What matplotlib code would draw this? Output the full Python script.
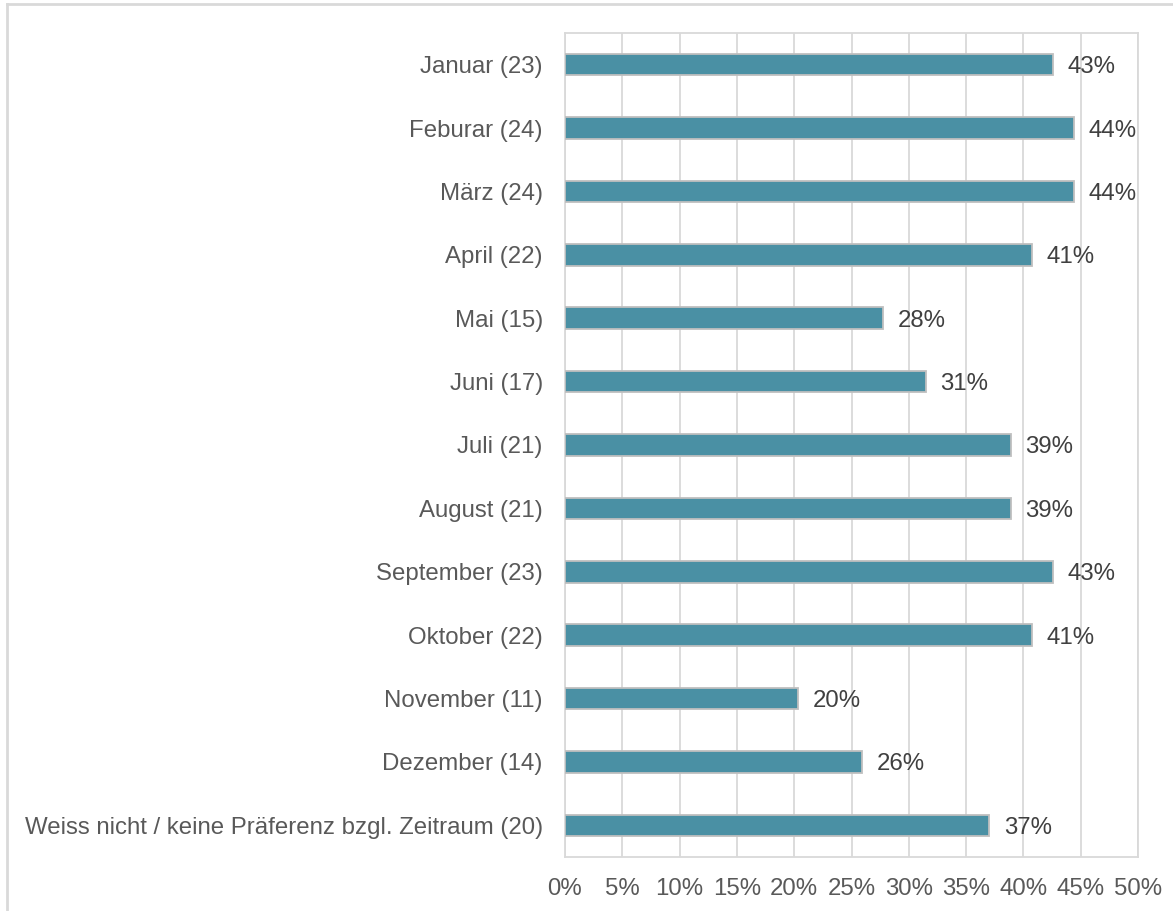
import matplotlib
matplotlib.use("Agg")
import matplotlib.pyplot as plt
from matplotlib.lines import Line2D
from matplotlib.ticker import FuncFormatter

categories = ["Januar (23)", "Feburar (24)", "März (24)", "April (22)", "Mai (15)",
              "Juni (17)", "Juli (21)", "August (21)", "September (23)", "Oktober (22)",
              "November (11)", "Dezember (14)",
              "Weiss nicht / keine Präferenz bzgl. Zeitraum (20)"]
counts = [23, 24, 24, 22, 15, 17, 21, 21, 23, 22, 11, 14, 20]
total = 54
values = [c / total * 100 for c in counts]
labels = ["43%", "44%", "44%", "41%", "28%", "31%", "39%", "39%", "43%", "41%", "20%", "26%", "37%"]
xticks = [0, 5, 10, 15, 20, 25, 30, 35, 40, 45, 50]

plt.rcParams['font.family'] = ['Liberation Sans', 'DejaVu Sans']
W, H = 1173, 911
fig = plt.figure(figsize=(W / 100, H / 100), dpi=100)
ax = fig.add_axes([565 / W, 1 - 857 / H, (1138 - 565) / W, (857 - 33) / H])

grid_c = "#d9d9d9"
text_c = "#595959"
fs = 17.3
y = list(range(len(categories)))
ax.barh(y, values, height=0.34, color="#4a90a4", edgecolor="#bfbfbf", linewidth=1.3, zorder=3)
for yi, v, lab in zip(y, values, labels):
    ax.annotate(lab, (v, yi), xytext=(10.5, 0), textcoords="offset points",
                va="center_baseline", ha="left", fontsize=fs, color="#404040", zorder=4)

ax.set_xlim(0, 50)
ax.set_ylim(len(categories) - 0.5, -0.5)
ax.set_xticks(xticks)
ax.xaxis.set_major_formatter(FuncFormatter(lambda v, p: f"{v:.0f}%"))
ax.set_yticks(y)
ax.set_yticklabels(categories)
ax.tick_params(axis="both", length=0, labelsize=fs, labelcolor=text_c)
ax.tick_params(axis="y", pad=16)
ax.tick_params(axis="x", pad=15)
ax.grid(axis="x", color=grid_c, linewidth=1.3, zorder=0)
for s in ax.spines.values():
    s.set_color(grid_c)
    s.set_linewidth(1.3)

fig.add_artist(Line2D([7 / W, 7 / W], [0, 1 - 4 / H], transform=fig.transFigure, color=grid_c, linewidth=2))
fig.add_artist(Line2D([7 / W, 1], [1 - 4 / H, 1 - 4 / H], transform=fig.transFigure, color=grid_c, linewidth=2))

fig.savefig("out.png", dpi=100, facecolor="white")
